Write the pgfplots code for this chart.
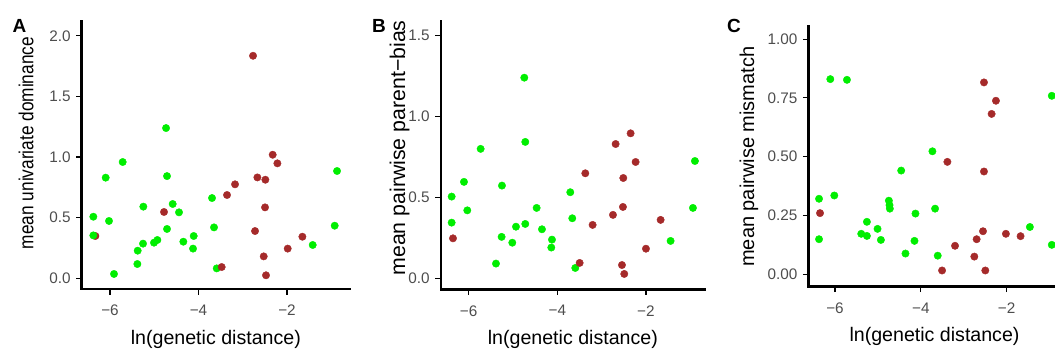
\documentclass[border=0pt]{standalone}
\usepackage{fontspec}
\setmainfont{Liberation Sans}
\usepackage{graphicx}
\usepackage{pgfplots}
\usepackage{pgfplotstable}
\pgfplotsset{compat=1.18}
\definecolor{ptgreen}{HTML}{00EE00}
\definecolor{ptred}{HTML}{A52A2A}
\definecolor{ticktext}{HTML}{4D4D4D}

% Panel A
\pgfplotstableread{
x y
-6.331 0.349
}\AredA
\pgfplotstableread{
x y
-6.377 0.508
-6.377 0.354
-6.098 0.830
-6.023 0.473
-5.714 0.959
-5.910 0.036
-5.247 0.591
-5.254 0.286
-5.375 0.228
-5.382 0.118
-5.006 0.294
-4.930 0.316
-4.734 1.239
-4.712 0.843
-4.712 0.407
-4.584 0.613
-4.441 0.544
-4.343 0.302
-4.109 0.349
-4.124 0.245
-3.695 0.662
-3.650 0.420
-3.589 0.082
-1.420 0.275
-0.923 0.434
-0.870 0.885
}\Agreen
\pgfplotstableread{
x y
-4.780 0.547
-3.477 0.093
-3.356 0.687
-3.175 0.775
-2.768 1.835
-2.723 0.390
-2.670 0.832
-2.490 0.813
-2.497 0.585
-2.527 0.181
-2.475 0.025
-2.324 1.019
-2.218 0.948
-1.985 0.245
-1.653 0.343
}\AredB
% Panel B
\pgfplotstableread{
x y
-6.383 0.505
-6.383 0.344
-6.105 0.596
-6.030 0.420
-5.729 0.800
-5.248 0.573
-5.256 0.256
-5.383 0.091
-5.015 0.220
-4.932 0.319
-4.744 1.240
-4.722 0.843
-4.722 0.336
-4.466 0.435
-4.346 0.303
-4.120 0.239
-4.135 0.190
-3.707 0.532
-3.662 0.371
-3.594 0.064
-1.444 0.231
-0.940 0.435
-0.895 0.725
}\Bgreen
\pgfplotstableread{
x y
-6.353 0.247
-3.496 0.095
-3.368 0.649
-3.203 0.330
-2.744 0.392
-2.684 0.830
-2.511 0.620
-2.519 0.441
-2.541 0.082
-2.489 0.027
-2.346 0.896
-2.233 0.719
-2.000 0.183
-1.669 0.361
}\Bred
% Panel C
\pgfplotstableread{
x y
-6.372 0.321
-6.372 0.149
-6.109 0.830
-6.016 0.335
-5.721 0.827
-5.388 0.172
-5.256 0.223
-5.256 0.163
-5.008 0.193
-4.930 0.146
-4.744 0.313
-4.729 0.294
-4.721 0.279
-4.457 0.441
-4.357 0.088
-4.124 0.258
-4.147 0.142
-3.729 0.523
-3.667 0.279
-3.605 0.079
-1.457 0.201
-0.946 0.125
-0.946 0.759
}\Cgreen
\pgfplotstableread{
x y
-6.349 0.260
-3.504 0.016
-3.380 0.478
-3.202 0.121
-2.752 0.075
-2.698 0.149
-2.550 0.183
-2.527 0.816
-2.527 0.437
-2.496 0.016
-2.349 0.682
-2.248 0.738
-2.016 0.172
-1.674 0.162
}\Cred

\pgfplotsset{
  panel/.style={
    scale only axis,
    anchor=south west,
    axis x line*=bottom,
    axis y line*=left,
    axis line style={line width=2.4bp, line cap=rect, -},
    tick align=outside,
    major tick length=5.5bp,
    tick style={line width=1.1bp, black},
    xtick={-6,-4,-2},
    xticklabels={−6,−4,−2},
    ticklabel style={font=\fontsize{15.3bp}{18bp}\selectfont, text=ticktext},
    xticklabel style={yshift=-7bp},
    yticklabel style={xshift=-2bp},
    xlabel={ln(genetic distance)},
    xlabel style={font=\fontsize{19.6bp}{23bp}\selectfont, anchor=base},
    ylabel style={rotate=0, anchor=base},
    clip=false,
  },
  gpt/.style={only marks, mark=*, mark size=3.7bp, color=ptgreen, mark options={draw=none, fill=ptgreen}},
  rpt/.style={only marks, mark=*, mark size=3.7bp, color=ptred, mark options={draw=none, fill=ptred}},
}

\begin{document}
\begin{tikzpicture}
% Panel A
\begin{axis}[panel,
  at={(81.7bp,63bp)}, width=268.3bp, height=267.3bp,
  xmin=-6.64, xmax=-0.577, ymin=-0.088, ymax=2.116,
  ytick={0,0.5,1,1.5,2}, yticklabels={0.0,0.5,1.0,1.5,2.0},
  ylabel={\scalebox{0.85}[1]{mean univariate dominance}},
  ylabel style={font=\fontsize{20.3bp}{23bp}\selectfont, at={(axis description cs:-0.18,0.546)}},
  xlabel style={at={(axis description cs:0.5,-0.207)}},
]
\addplot[rpt] table {\AredA};
\addplot[gpt] table {\Agreen};
\addplot[rpt] table {\AredB};
\end{axis}
% Panel B
\begin{axis}[panel,
  at={(440.7bp,62.7bp)}, width=264.3bp, height=267.6bp,
  xmin=-6.63, xmax=-0.668, ymin=-0.068, ymax=1.586,
  ytick={0,0.5,1,1.5}, yticklabels={0.0,0.5,1.0,1.5},
  ylabel={mean pairwise parent−bias},
  ylabel style={font=\fontsize{21.3bp}{24bp}\selectfont, at={(axis description cs:-0.135,0.528)}},
  xlabel style={at={(axis description cs:0.5,-0.2055)}},
]
\addplot[gpt] table {\Bgreen};
\addplot[rpt] table {\Bred};
\end{axis}
% Panel C
\begin{axis}[panel,
  at={(808.3bp,65.3bp)}, width=259.2bp, height=260bp,
  xmin=-6.622, xmax=-0.58, ymin=-0.053, ymax=1.053,
  ytick={0,0.25,0.5,0.75,1}, yticklabels={0.00,0.25,0.50,0.75,1.00},
  ylabel={mean pairwise mismatch},
  ylabel style={font=\fontsize{20bp}{23bp}\selectfont, at={(axis description cs:-0.2095,0.5)}},
  xlabel style={at={(axis description cs:0.487,-0.212)}},
]
\addplot[gpt] table {\Cgreen};
\addplot[rpt] table {\Cred};
\end{axis}
\node[anchor=base west, inner sep=0, font=\fontsize{19bp}{21bp}\bfseries] at (12.5bp,319bp) {A};
\node[anchor=base west, inner sep=0, font=\fontsize{19bp}{21bp}\bfseries] at (372bp,319bp) {B};
\node[anchor=base west, inner sep=0, font=\fontsize{19bp}{21bp}\bfseries] at (727bp,319bp) {C};
\pgfresetboundingbox
\useasboundingbox (0,0) rectangle (1055bp,352bp);
\end{tikzpicture}
\end{document}
